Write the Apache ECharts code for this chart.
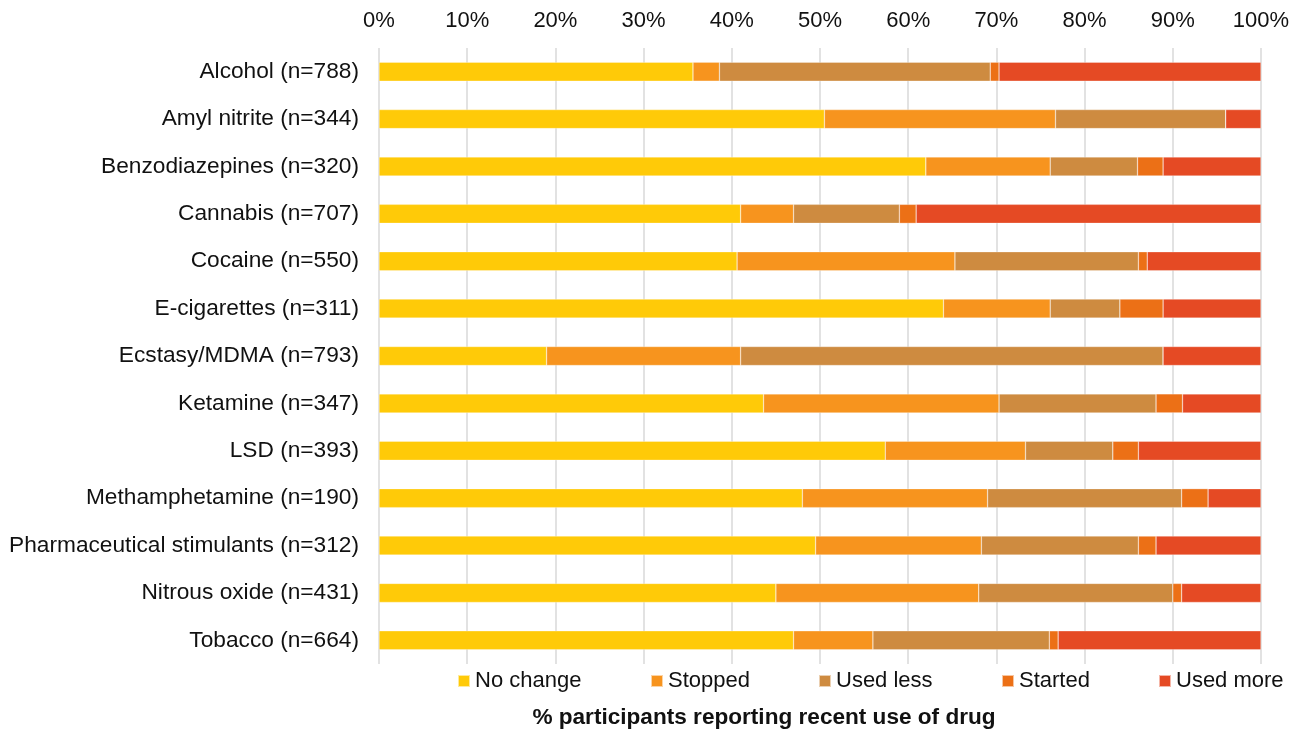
<!DOCTYPE html>
<html>
<head>
<meta charset="utf-8">
<title>Change in drug use</title>
<script src="https://cdn.jsdelivr.net/npm/echarts@6/dist/echarts.min.js"></script>
<style>
  html, body { margin: 0; padding: 0; background: #fff; }
  #chart { width: 1306px; height: 729px; }
</style>
</head>
<body>
<div id="chart"></div>
<script>
// Drugs (top to bottom) and the share of participants in each change group (%)
const categories = [
  'Alcohol (n=788)',
  'Amyl nitrite (n=344)',
  'Benzodiazepines (n=320)',
  'Cannabis (n=707)',
  'Cocaine (n=550)',
  'E-cigarettes (n=311)',
  'Ecstasy/MDMA (n=793)',
  'Ketamine (n=347)',
  'LSD (n=393)',
  'Methamphetamine (n=190)',
  'Pharmaceutical stimulants (n=312)',
  'Nitrous oxide (n=431)',
  'Tobacco (n=664)'
];

const noChange = [35.6, 50.5, 62.0, 41.0, 40.6, 64.0, 19.0, 43.6, 57.4, 48.0, 49.5, 45.0, 47.0];
const stopped  = [3.0, 26.2, 14.1, 6.0, 24.7, 12.1, 22.0, 26.7, 15.9, 21.0, 18.8, 23.0, 9.0];
const usedLess = [30.7, 19.3, 9.9, 12.0, 20.8, 7.9, 47.9, 17.8, 9.9, 22.0, 17.8, 22.0, 20.0];
const started  = [1.0, 0, 2.9, 1.9, 1.0, 4.9, 0, 3.0, 2.9, 3.0, 2.0, 1.0, 1.0];
const usedMore = [29.7, 4.0, 11.1, 39.1, 12.9, 11.1, 11.1, 8.9, 13.9, 6.0, 11.9, 9.0, 23.0];

const seriesNames = ['No change', 'Stopped', 'Used less', 'Started', 'Used more'];
const seriesValues = [noChange, stopped, usedLess, started, usedMore];
const colors = ['#FFCA08', '#F7941E', '#CE8B40', '#EC7016', '#E54A24'];

const FONT = '"Liberation Sans", Arial, Helvetica, sans-serif';
const TEXT = '#111';

const legendLeft = [457, 650, 818, 1001, 1158];

const chart = echarts.init(document.getElementById('chart'), null, { renderer: 'canvas' });

chart.setOption({
  animation: false,
  backgroundColor: '#fff',
  textStyle: { fontFamily: FONT },
  color: colors,
  title: {
    text: '% participants reporting recent use of drug',
    left: 759,
    top: 701,
    textAlign: 'center',
    textStyle: { fontFamily: FONT, fontSize: 22.6, fontWeight: 'bold', color: TEXT }
  },
  legend: seriesNames.map((name, i) => ({
    data: [name],
    left: legendLeft[i],
    top: 670,
    padding: 0,
    itemWidth: 12,
    itemHeight: 12,
    icon: 'rect',
    selectedMode: false,
    textStyle: { fontFamily: FONT, fontSize: 22, color: TEXT }
  })),
  grid: { left: 379, right: 45, top: 48, bottom: 65, containLabel: false },
  xAxis: {
    type: 'value',
    position: 'top',
    min: 0,
    max: 100,
    interval: 10,
    axisLine: { show: false },
    axisTick: { show: false },
    axisLabel: {
      formatter: '{value}%',
      fontFamily: FONT,
      fontSize: 22,
      color: TEXT,
      margin: 16
    },
    splitLine: { show: true, lineStyle: { color: '#D9D9D9', width: 1.5 } }
  },
  yAxis: {
    type: 'category',
    data: categories,
    inverse: true,
    axisLine: { show: false },
    axisTick: { show: false },
    axisLabel: {
      fontFamily: FONT,
      fontSize: 22.7,
      color: TEXT,
      margin: 20
    },
    splitLine: { show: false }
  },
  series: seriesNames.map((name, i) => ({
    name: name,
    type: 'bar',
    stack: 'total',
    barWidth: 19,
    data: seriesValues[i],
    itemStyle: { color: colors[i], borderColor: 'rgba(255,255,255,0.6)', borderWidth: 0.5 }
  }))
});
</script>
</body>
</html>
